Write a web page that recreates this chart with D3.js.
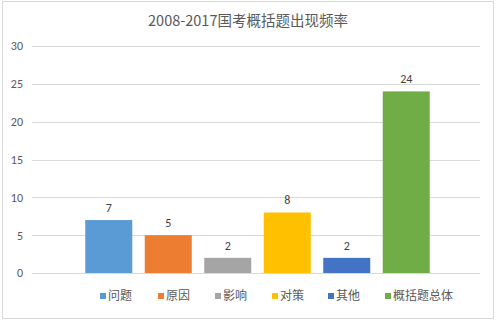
<!DOCTYPE html>
<html>
<head>
<meta charset="utf-8">
<script src="https://cdn.jsdelivr.net/npm/d3@7/dist/d3.min.js"></script>
<style>
  html, body { margin: 0; padding: 0; background: #fff; }
  svg { display: block; }
  text { font-family: "Microsoft YaHei", "Noto Sans CJK SC", sans-serif; }
</style>
</head>
<body>
<svg id="chart" width="498" height="322"></svg>
<script>
// Question types and their counts, 2008-2017
const categories = ["问题", "原因", "影响", "对策", "其他", "概括题总体"];
const counts = [7, 5, 2, 8, 2, 24];
const colors = ["#5B9BD5", "#ED7D31", "#A5A5A5", "#FFC000", "#4472C4", "#70AD47"];
const yTicks = [0, 5, 10, 15, 20, 25, 30];
const title = "2008-2017国考概括题出现频率";

const W = 498, H = 322;
const svg = d3.select("#chart");

// chart frame
svg.append("rect")
  .attr("x", 2.5).attr("y", 1.5)
  .attr("width", W - 7).attr("height", H - 5)
  .attr("fill", "#fff").attr("stroke", "#d9d9d9");

const plot = { left: 32, right: 480, top: 46, bottom: 273 };

const y = d3.scaleLinear().domain([0, 30]).range([plot.bottom, plot.top]);
const x = d3.scaleBand().domain(categories)
  .range([79, 436]).paddingInner(0.21).paddingOuter(0.105);

// gridlines
svg.append("g")
  .selectAll("line").data(yTicks).join("line")
  .attr("x1", plot.left).attr("x2", plot.right)
  .attr("y1", d => Math.round(y(d)) + 0.5).attr("y2", d => Math.round(y(d)) + 0.5)
  .attr("stroke", "#d9d9d9").attr("stroke-width", 1);

// y axis labels
const yAxis = d3.axisLeft(y).tickValues(yTicks).tickSize(0).tickPadding(0);
const gy = svg.append("g").attr("transform", "translate(23,0)").call(yAxis);
gy.select(".domain").remove();
gy.selectAll("text").attr("fill", "#595959").style("font-size", "12px")
  .style("font-family", "Calibri, Carlito, 'Liberation Sans', sans-serif");

// bars
svg.append("g").selectAll("rect").data(categories).join("rect")
  .attr("x", d => x(d))
  .attr("y", (d, i) => y(counts[i]))
  .attr("width", x.bandwidth())
  .attr("height", (d, i) => y(0) - y(counts[i]))
  .attr("fill", (d, i) => colors[i]);

// value labels
svg.append("g").selectAll("text").data(categories).join("text")
  .attr("x", d => x(d) + x.bandwidth() / 2)
  .attr("y", (d, i) => y(counts[i]) - 8)
  .attr("text-anchor", "middle")
  .attr("fill", "#404040")
  .style("font-size", "12px")
  .style("font-family", "Calibri, Carlito, 'Liberation Sans', sans-serif")
  .text((d, i) => counts[i]);

// title
svg.append("text")
  .attr("x", 248).attr("y", 26)
  .attr("text-anchor", "middle")
  .attr("fill", "#595959")
  .style("font-size", "14.5px")
  .text(title);

// legend
const legendX = [100, 158, 215, 272, 328, 385];
const lg = svg.append("g").selectAll("g").data(categories).join("g")
  .attr("transform", (d, i) => `translate(${legendX[i]},296)`);
lg.append("rect").attr("x", 0).attr("y", -3).attr("width", 6).attr("height", 6)
  .attr("fill", (d, i) => colors[i]);
lg.append("text").attr("x", 8).attr("y", 0).attr("dy", "0.36em")
  .attr("fill", "#595959").style("font-size", "12px")
  .text(d => d);
</script>
</body>
</html>
